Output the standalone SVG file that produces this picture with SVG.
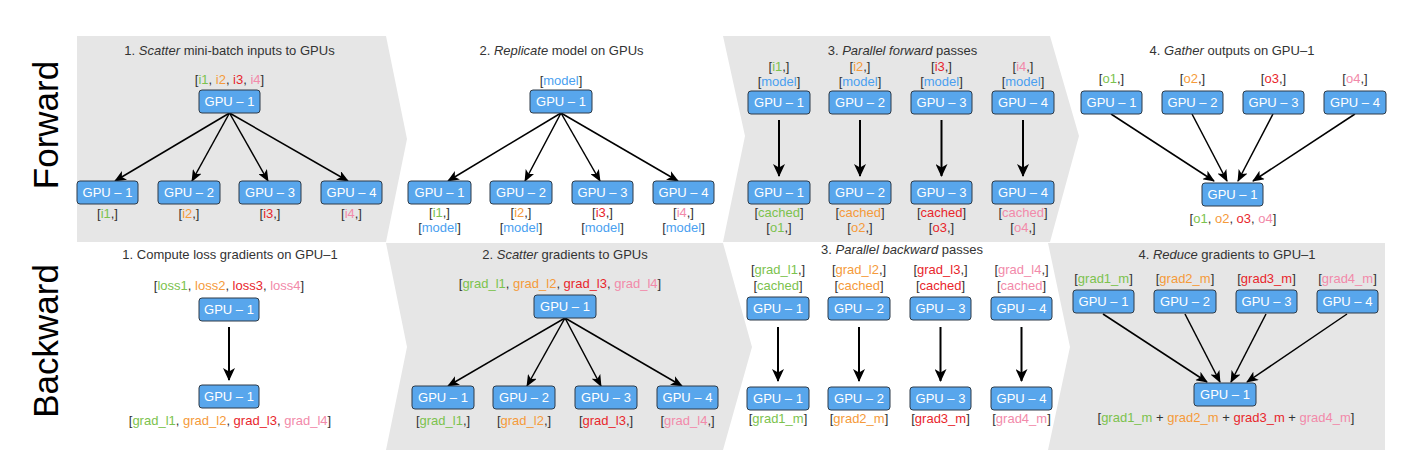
<svg xmlns="http://www.w3.org/2000/svg" width="1414" height="472" viewBox="0 0 1414 472">
<defs>
<style>
text{font-family:"Liberation Sans",Arial,sans-serif;font-size:13px;fill:#333;}
.t{text-anchor:middle;}
.n rect{fill:#58a6ec;stroke:#2e3b48;stroke-width:1;}
.n text{fill:#fff;text-anchor:middle;}
.g{fill:#7cc24e;}
.o{fill:#f59a3a;}
.r{fill:#e8262c;}
.p{fill:#f28aaa;}
.b{fill:#4a9ff0;}
.bg{fill:#e6e6e6;}
.side{font-size:35px;fill:#000;text-anchor:middle;}
.c line{stroke:#000;stroke-width:1.5;}
.c .v{stroke-width:2;}
</style>
<marker id="ah" markerUnits="userSpaceOnUse" viewBox="0 0 12 10" markerWidth="12" markerHeight="10" refX="11" refY="5" orient="auto">
<path d="M0,0 L12,5 L0,10 L3,5 Z" fill="#000"/>
</marker>
<marker id="ahv" markerUnits="userSpaceOnUse" viewBox="0 0 13 12" markerWidth="13" markerHeight="12" refX="12" refY="6" orient="auto">
<path d="M0,0 L13,6 L0,12 L3.5,6 Z" fill="#000"/>
</marker>
</defs>

<g id="backgrounds">
<polygon class="bg" points="77,36 386,36 407,139 386,242 77,242"/>
<polygon class="bg" points="723,36 1050,36 1079,136 1050,242 723,242 745,136"/>
<polygon class="bg" points="386,243 723,243 752,347 723,450 386,450 407,347"/>
<polygon class="bg" points="1048,243 1385,243 1385,450 1048,450 1070,347"/>
</g>

<g id="side-labels">
<text class="side" transform="translate(58,125) rotate(-90)">Forward</text>
<text class="side" transform="translate(58,341) rotate(-90)">Backward</text>
</g>

<g id="titles">
<text class="t" x="229.5" y="55">1. <tspan font-style="italic">Scatter</tspan> mini-batch inputs to GPUs</text>
<text class="t" x="561.5" y="55">2. <tspan font-style="italic">Replicate</tspan> model on GPUs</text>
<text class="t" x="902.5" y="55">3. <tspan font-style="italic">Parallel forward</tspan> passes</text>
<text class="t" x="1232" y="55">4. <tspan font-style="italic">Gather</tspan> outputs on GPU–1</text>
<text class="t" x="230" y="259">1. Compute loss gradients on GPU–1</text>
<text class="t" x="565" y="259">2. <tspan font-style="italic">Scatter</tspan> gradients to GPUs</text>
<text class="t" x="902" y="254">3. <tspan font-style="italic">Parallel backward</tspan> passes</text>
<text class="t" x="1227" y="259">4. <tspan font-style="italic">Reduce</tspan> gradients to GPU–1</text>
</g>

<g id="connectors" class="c">
<line x1="229.5" y1="113" x2="115" y2="181" marker-end="url(#ah)"/>
<line x1="229.5" y1="113" x2="192" y2="181" marker-end="url(#ah)"/>
<line x1="229.5" y1="113" x2="268" y2="181" marker-end="url(#ah)"/>
<line x1="229.5" y1="113" x2="348" y2="181" marker-end="url(#ah)"/>
<line x1="561" y1="113" x2="448" y2="181" marker-end="url(#ah)"/>
<line x1="561" y1="113" x2="525" y2="181" marker-end="url(#ah)"/>
<line x1="561" y1="113" x2="600" y2="181" marker-end="url(#ah)"/>
<line x1="561" y1="113" x2="678" y2="181" marker-end="url(#ah)"/>
<line class="v" x1="779" y1="120" x2="779" y2="176" marker-end="url(#ahv)"/>
<line class="v" x1="860" y1="120" x2="860" y2="176" marker-end="url(#ahv)"/>
<line class="v" x1="941.5" y1="120" x2="941.5" y2="176" marker-end="url(#ahv)"/>
<line class="v" x1="1023" y1="120" x2="1023" y2="176" marker-end="url(#ahv)"/>
<line x1="1111" y1="114" x2="1214" y2="181" marker-end="url(#ah)"/>
<line x1="1192" y1="114" x2="1227" y2="181" marker-end="url(#ah)"/>
<line x1="1273" y1="114" x2="1238" y2="181" marker-end="url(#ah)"/>
<line x1="1355" y1="114" x2="1253" y2="181" marker-end="url(#ah)"/>
<line class="v" x1="229" y1="327" x2="229" y2="380" marker-end="url(#ahv)"/>
<line x1="565" y1="318" x2="448" y2="386" marker-end="url(#ah)"/>
<line x1="565" y1="318" x2="527" y2="386" marker-end="url(#ah)"/>
<line x1="565" y1="318" x2="601" y2="386" marker-end="url(#ah)"/>
<line x1="565" y1="318" x2="682" y2="386" marker-end="url(#ah)"/>
<line class="v" x1="778" y1="327" x2="778" y2="381" marker-end="url(#ahv)"/>
<line class="v" x1="859" y1="327" x2="859" y2="381" marker-end="url(#ahv)"/>
<line class="v" x1="940.5" y1="327" x2="940.5" y2="381" marker-end="url(#ahv)"/>
<line class="v" x1="1021.5" y1="327" x2="1021.5" y2="381" marker-end="url(#ahv)"/>
<line x1="1103" y1="314" x2="1207" y2="382" marker-end="url(#ah)"/>
<line x1="1185" y1="314" x2="1220" y2="382" marker-end="url(#ah)"/>
<line x1="1266" y1="314" x2="1231" y2="382" marker-end="url(#ah)"/>
<line x1="1347" y1="314" x2="1247" y2="382" marker-end="url(#ah)"/>
</g>

<!-- Forward 1 -->
<g id="f1-src" class="n"><rect x="199" y="90" width="61" height="23" rx="3"/><text x="229.5" y="106">GPU – 1</text></g>
<g id="f1-gpu1" class="n"><rect x="77" y="181" width="61" height="23" rx="3"/><text x="107.5" y="197">GPU – 1</text></g>
<g id="f1-gpu2" class="n"><rect x="158" y="181" width="62" height="23" rx="3"/><text x="189" y="197">GPU – 2</text></g>
<g id="f1-gpu3" class="n"><rect x="239" y="181" width="62" height="23" rx="3"/><text x="270" y="197">GPU – 3</text></g>
<g id="f1-gpu4" class="n"><rect x="321" y="181" width="61" height="23" rx="3"/><text x="351.5" y="197">GPU – 4</text></g>
<g id="f1-labels">
<text class="t" x="229.5" y="84">[<tspan class="g">i1</tspan>, <tspan class="o">i2</tspan>, <tspan class="r">i3</tspan>, <tspan class="p">i4</tspan>]</text>
<text class="t" x="107.5" y="218">[<tspan class="g">i1</tspan>,]</text>
<text class="t" x="189" y="218">[<tspan class="o">i2</tspan>,]</text>
<text class="t" x="270" y="218">[<tspan class="r">i3</tspan>,]</text>
<text class="t" x="351.5" y="218">[<tspan class="p">i4</tspan>,]</text>
</g>

<!-- Forward 2 -->
<g id="f2-src" class="n"><rect x="530" y="90" width="62" height="23" rx="3"/><text x="561" y="106">GPU – 1</text></g>
<g id="f2-gpu1" class="n"><rect x="408" y="181" width="63" height="23" rx="3"/><text x="439.5" y="197">GPU – 1</text></g>
<g id="f2-gpu2" class="n"><rect x="490" y="181" width="62" height="23" rx="3"/><text x="521" y="197">GPU – 2</text></g>
<g id="f2-gpu3" class="n"><rect x="572" y="181" width="61" height="23" rx="3"/><text x="602.5" y="197">GPU – 3</text></g>
<g id="f2-gpu4" class="n"><rect x="653" y="181" width="61" height="23" rx="3"/><text x="683.5" y="197">GPU – 4</text></g>
<g id="f2-labels">
<text class="t" x="561" y="85">[<tspan class="b">model</tspan>]</text>
<text class="t" x="439.5" y="217">[<tspan class="g">i1</tspan>,]</text>
<text class="t" x="521" y="217">[<tspan class="o">i2</tspan>,]</text>
<text class="t" x="602.5" y="217">[<tspan class="r">i3</tspan>,]</text>
<text class="t" x="683.5" y="217">[<tspan class="p">i4</tspan>,]</text>
<text class="t" x="439.5" y="232">[<tspan class="b">model</tspan>]</text>
<text class="t" x="521" y="232">[<tspan class="b">model</tspan>]</text>
<text class="t" x="602.5" y="232">[<tspan class="b">model</tspan>]</text>
<text class="t" x="683.5" y="232">[<tspan class="b">model</tspan>]</text>
</g>

<!-- Forward 3 -->
<g id="f3-top1" class="n"><rect x="748" y="91" width="62" height="23" rx="3"/><text x="779" y="107">GPU – 1</text></g>
<g id="f3-top2" class="n"><rect x="829" y="91" width="62" height="23" rx="3"/><text x="860" y="107">GPU – 2</text></g>
<g id="f3-top3" class="n"><rect x="911" y="91" width="61" height="23" rx="3"/><text x="941.5" y="107">GPU – 3</text></g>
<g id="f3-top4" class="n"><rect x="992" y="91" width="62" height="23" rx="3"/><text x="1023" y="107">GPU – 4</text></g>
<g id="f3-bot1" class="n"><rect x="748" y="181" width="62" height="23" rx="3"/><text x="779" y="197">GPU – 1</text></g>
<g id="f3-bot2" class="n"><rect x="829" y="181" width="62" height="23" rx="3"/><text x="860" y="197">GPU – 2</text></g>
<g id="f3-bot3" class="n"><rect x="911" y="181" width="61" height="23" rx="3"/><text x="941.5" y="197">GPU – 3</text></g>
<g id="f3-bot4" class="n"><rect x="992" y="181" width="62" height="23" rx="3"/><text x="1023" y="197">GPU – 4</text></g>
<g id="f3-labels">
<text class="t" x="779" y="71">[<tspan class="g">i1</tspan>,]</text>
<text class="t" x="860" y="71">[<tspan class="o">i2</tspan>,]</text>
<text class="t" x="941.5" y="71">[<tspan class="r">i3</tspan>,]</text>
<text class="t" x="1023" y="71">[<tspan class="p">i4</tspan>,]</text>
<text class="t" x="779" y="86">[<tspan class="b">model</tspan>]</text>
<text class="t" x="860" y="86">[<tspan class="b">model</tspan>]</text>
<text class="t" x="941.5" y="86">[<tspan class="b">model</tspan>]</text>
<text class="t" x="1023" y="86">[<tspan class="b">model</tspan>]</text>
<text class="t" x="779" y="217">[<tspan class="g">cached</tspan>]</text>
<text class="t" x="860" y="217">[<tspan class="o">cached</tspan>]</text>
<text class="t" x="941.5" y="217">[<tspan class="r">cached</tspan>]</text>
<text class="t" x="1023" y="217">[<tspan class="p">cached</tspan>]</text>
<text class="t" x="779" y="232">[<tspan class="g">o1</tspan>,]</text>
<text class="t" x="860" y="232">[<tspan class="o">o2</tspan>,]</text>
<text class="t" x="941.5" y="232">[<tspan class="r">o3</tspan>,]</text>
<text class="t" x="1023" y="232">[<tspan class="p">o4</tspan>,]</text>
</g>

<!-- Forward 4 -->
<g id="f4-gpu1" class="n"><rect x="1081" y="91" width="61" height="23" rx="3"/><text x="1111.5" y="107">GPU – 1</text></g>
<g id="f4-gpu2" class="n"><rect x="1162" y="91" width="61" height="23" rx="3"/><text x="1192.5" y="107">GPU – 2</text></g>
<g id="f4-gpu3" class="n"><rect x="1243" y="91" width="61" height="23" rx="3"/><text x="1273.5" y="107">GPU – 3</text></g>
<g id="f4-gpu4" class="n"><rect x="1324" y="91" width="62" height="23" rx="3"/><text x="1355" y="107">GPU – 4</text></g>
<g id="f4-dst" class="n"><rect x="1202" y="183" width="61" height="23" rx="3"/><text x="1232.5" y="199">GPU – 1</text></g>
<g id="f4-labels">
<text class="t" x="1111.5" y="83">[<tspan class="g">o1</tspan>,]</text>
<text class="t" x="1192.5" y="83">[<tspan class="o">o2</tspan>,]</text>
<text class="t" x="1273.5" y="83">[<tspan class="r">o3</tspan>,]</text>
<text class="t" x="1355" y="83">[<tspan class="p">o4</tspan>,]</text>
<text class="t" x="1233" y="223">[<tspan class="g">o1</tspan>, <tspan class="o">o2</tspan>, <tspan class="r">o3</tspan>, <tspan class="p">o4</tspan>]</text>
</g>

<!-- Backward 1 -->
<g id="b1-src" class="n"><rect x="199" y="298" width="60" height="23" rx="3"/><text x="229" y="314">GPU – 1</text></g>
<g id="b1-dst" class="n"><rect x="199" y="385" width="60" height="23" rx="3"/><text x="229" y="401">GPU – 1</text></g>
<g id="b1-labels">
<text class="t" x="229" y="290">[<tspan class="g">loss1</tspan>, <tspan class="o">loss2</tspan>, <tspan class="r">loss3</tspan>, <tspan class="p">loss4</tspan>]</text>
<text class="t" x="230" y="425">[<tspan class="g">grad_l1</tspan>, <tspan class="o">grad_l2</tspan>, <tspan class="r">grad_l3</tspan>, <tspan class="p">grad_l4</tspan>]</text>
</g>

<!-- Backward 2 -->
<g id="b2-src" class="n"><rect x="534" y="295" width="62" height="23" rx="3"/><text x="565" y="311">GPU – 1</text></g>
<g id="b2-gpu1" class="n"><rect x="412" y="386" width="62" height="23" rx="3"/><text x="443" y="402">GPU – 1</text></g>
<g id="b2-gpu2" class="n"><rect x="493" y="386" width="62" height="23" rx="3"/><text x="524" y="402">GPU – 2</text></g>
<g id="b2-gpu3" class="n"><rect x="575" y="386" width="62" height="23" rx="3"/><text x="606" y="402">GPU – 3</text></g>
<g id="b2-gpu4" class="n"><rect x="657" y="386" width="61" height="23" rx="3"/><text x="687.5" y="402">GPU – 4</text></g>
<g id="b2-labels">
<text class="t" x="560" y="288">[<tspan class="g">grad_l1</tspan>, <tspan class="o">grad_l2</tspan>, <tspan class="r">grad_l3</tspan>, <tspan class="p">grad_l4</tspan>]</text>
<text class="t" x="443" y="425">[<tspan class="g">grad_l1</tspan>,]</text>
<text class="t" x="524" y="425">[<tspan class="o">grad_l2</tspan>,]</text>
<text class="t" x="606" y="425">[<tspan class="r">grad_l3</tspan>,]</text>
<text class="t" x="687.5" y="425">[<tspan class="p">grad_l4</tspan>,]</text>
</g>

<!-- Backward 3 -->
<g id="b3-top1" class="n"><rect x="747" y="297" width="62" height="23" rx="3"/><text x="778" y="313">GPU – 1</text></g>
<g id="b3-top2" class="n"><rect x="828" y="297" width="62" height="23" rx="3"/><text x="859" y="313">GPU – 2</text></g>
<g id="b3-top3" class="n"><rect x="910" y="297" width="61" height="23" rx="3"/><text x="940.5" y="313">GPU – 3</text></g>
<g id="b3-top4" class="n"><rect x="991" y="297" width="61" height="23" rx="3"/><text x="1021.5" y="313">GPU – 4</text></g>
<g id="b3-bot1" class="n"><rect x="747" y="387" width="62" height="23" rx="3"/><text x="778" y="403">GPU – 1</text></g>
<g id="b3-bot2" class="n"><rect x="828" y="387" width="62" height="23" rx="3"/><text x="859" y="403">GPU – 2</text></g>
<g id="b3-bot3" class="n"><rect x="910" y="387" width="61" height="23" rx="3"/><text x="940.5" y="403">GPU – 3</text></g>
<g id="b3-bot4" class="n"><rect x="991" y="387" width="61" height="23" rx="3"/><text x="1021.5" y="403">GPU – 4</text></g>
<g id="b3-labels">
<text class="t" x="778" y="274">[<tspan class="g">grad_l1</tspan>,]</text>
<text class="t" x="859" y="274">[<tspan class="o">grad_l2</tspan>,]</text>
<text class="t" x="940.5" y="274">[<tspan class="r">grad_l3</tspan>,]</text>
<text class="t" x="1021.5" y="274">[<tspan class="p">grad_l4</tspan>,]</text>
<text class="t" x="778" y="290">[<tspan class="g">cached</tspan>]</text>
<text class="t" x="859" y="290">[<tspan class="o">cached</tspan>]</text>
<text class="t" x="940.5" y="290">[<tspan class="r">cached</tspan>]</text>
<text class="t" x="1021.5" y="290">[<tspan class="p">cached</tspan>]</text>
<text class="t" x="778" y="423">[<tspan class="g">grad1_m</tspan>]</text>
<text class="t" x="859" y="423">[<tspan class="o">grad2_m</tspan>]</text>
<text class="t" x="940.5" y="423">[<tspan class="r">grad3_m</tspan>]</text>
<text class="t" x="1021.5" y="423">[<tspan class="p">grad4_m</tspan>]</text>
</g>

<!-- Backward 4 -->
<g id="b4-gpu1" class="n"><rect x="1073" y="290" width="61" height="23" rx="3"/><text x="1103.5" y="306">GPU – 1</text></g>
<g id="b4-gpu2" class="n"><rect x="1154" y="290" width="62" height="23" rx="3"/><text x="1185" y="306">GPU – 2</text></g>
<g id="b4-gpu3" class="n"><rect x="1236" y="290" width="61" height="23" rx="3"/><text x="1266.5" y="306">GPU – 3</text></g>
<g id="b4-gpu4" class="n"><rect x="1317" y="290" width="61" height="23" rx="3"/><text x="1347.5" y="306">GPU – 4</text></g>
<g id="b4-dst" class="n"><rect x="1194" y="383" width="62" height="23" rx="3"/><text x="1225" y="399">GPU – 1</text></g>
<g id="b4-labels">
<text class="t" x="1103.5" y="283">[<tspan class="g">grad1_m</tspan>]</text>
<text class="t" x="1185" y="283">[<tspan class="o">grad2_m</tspan>]</text>
<text class="t" x="1266.5" y="283">[<tspan class="r">grad3_m</tspan>]</text>
<text class="t" x="1347.5" y="283">[<tspan class="p">grad4_m</tspan>]</text>
<text class="t" x="1226" y="422">[<tspan class="g">grad1_m</tspan> + <tspan class="o">grad2_m</tspan> + <tspan class="r">grad3_m</tspan> + <tspan class="p">grad4_m</tspan>]</text>
</g>
</svg>
